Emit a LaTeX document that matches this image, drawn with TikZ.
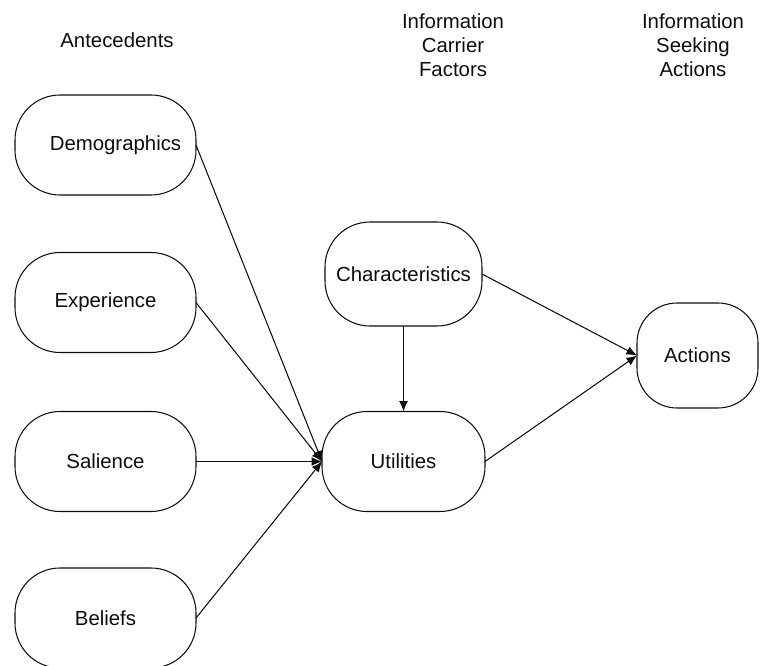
\documentclass[tikz,border=0pt]{standalone}
\usepackage{fontspec}
\setmainfont{Liberation Sans}
\usepackage{tikz}
\usetikzlibrary{arrows.meta}
\definecolor{ModelInk}{gray}{0.05}
\definecolor{ModelPaper}{gray}{1.0}
\tikzset{
    model/diagram/.style={
        font=\fontsize{11.6}{13.7}\selectfont,
        draw=ModelInk,
        text=ModelInk,
        line width=0.6pt,
        line join=round,
        >=Latex,
        every node/.style={inner sep=2pt, outer sep=0pt}
    },
    model/box/.style={
        draw=ModelInk, fill=ModelPaper, line width=0.6pt,
        rounded corners=0.9cm, align=center
    },
    model/heading/.style={align=center},
    model/link/.style={
        draw=ModelInk, line width=0.6pt,
        -{Latex[length=2.1mm, width=1.8mm]}
    }
}

\begin{document}
\begin{tikzpicture}[model/diagram]
    \useasboundingbox (0,0) rectangle (15.22,13.3);
    \node[model/heading] (antecedents) at (2.34,12.5) {Antecedents};
    \node[model/heading] (carrier) at (9.06,12.4) {Information\\Carrier\\Factors};
    \node[model/heading] (seeking) at (13.86,12.4) {Information\\Seeking\\Actions};
    \node[model/box, minimum width=3.62cm, minimum height=2.0cm] (demographics) at (2.11,10.4) {\hspace{0.4cm}Demographics};
    \node[model/box, minimum width=3.62cm, minimum height=2.0cm] (experience) at (2.11,7.25) {Experience};
    \node[model/box, minimum width=3.62cm, minimum height=2.0cm] (salience) at (2.11,4.07) {Salience};
    \node[model/box, minimum width=3.62cm, minimum height=2.0cm] (beliefs) at (2.11,0.94) {Beliefs};
    \node[model/box, minimum width=3.14cm, minimum height=2.08cm] (characteristics) at (8.07,7.82) {Characteristics};
    \node[model/box, minimum width=3.26cm, minimum height=2.0cm] (utilities) at (8.07,4.07) {Utilities};
    \node[model/box, minimum width=2.42cm, minimum height=2.1cm, rounded corners=0.8cm] (actions) at (13.95,6.19) {Actions};
    \foreach \src in {demographics,experience,salience,beliefs}
        \draw[model/link] (\src.east) -- (utilities.west);
    \draw[model/link] (characteristics.south) -- (utilities.north);
    \draw[model/link] (characteristics.east) -- (actions.west);
    \draw[model/link] (utilities.east) -- (actions.west);
\end{tikzpicture}
\end{document}
